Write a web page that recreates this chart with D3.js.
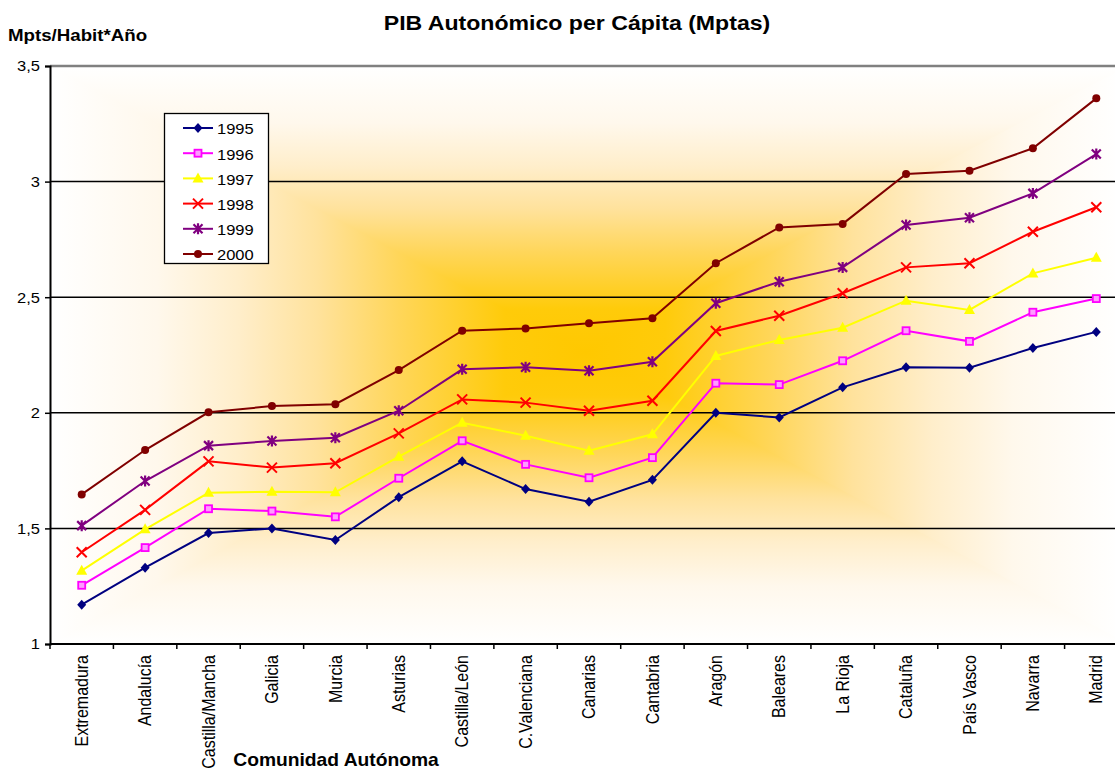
<!DOCTYPE html>
<html>
<head>
<meta charset="utf-8">
<script src="https://cdn.jsdelivr.net/npm/d3@7"></script>
<style>
html,body{margin:0;padding:0;background:#fff;overflow:hidden;}
text{font-family:"Liberation Sans",Arial,sans-serif;}
</style>
</head>
<body>
<svg id="chart" width="1115" height="769"></svg>
<script>
const categories = ["Extremadura","Andalucía","Castilla/Mancha","Galicia","Murcia","Asturias","Castilla/León","C.Valenciana","Canarias","Cantabria","Aragón","Baleares","La Rioja","Cataluña","País Vasco","Navarra","Madrid"];
const years = ["1995","1996","1997","1998","1999","2000"];
const v1995 = [1.17,1.33,1.48,1.50,1.45,1.635,1.79,1.67,1.615,1.71,2.00,1.98,2.11,2.197,2.195,2.28,2.35];
const v1996 = [1.254,1.417,1.585,1.575,1.55,1.717,1.879,1.777,1.719,1.806,2.128,2.122,2.225,2.355,2.309,2.435,2.494];
const v1997 = [1.317,1.496,1.654,1.659,1.656,1.81,1.957,1.901,1.836,1.907,2.246,2.315,2.368,2.485,2.445,2.603,2.671];
const v1998 = [1.397,1.58,1.79,1.763,1.782,1.911,2.058,2.044,2.009,2.052,2.354,2.42,2.517,2.629,2.647,2.783,2.889];
const v1999 = [1.512,1.705,1.858,1.878,1.892,2.009,2.188,2.197,2.182,2.221,2.474,2.567,2.629,2.812,2.844,2.949,3.119];
const v2000 = [1.647,1.839,2.002,2.029,2.037,2.185,2.355,2.365,2.387,2.409,2.647,2.802,2.817,3.033,3.047,3.144,3.36];
const seriesValues = [v1995,v1996,v1997,v1998,v1999,v2000];
const yTicks = [1,1.5,2,2.5,3,3.5];
const yTickLabels = ["1","1,5","2","2,5","3","3,5"];
const seriesColors = ["#000080","#FF00FF","#FFFF00","#FF0000","#800080","#800000"];

const SX = 1.1; // horizontal text stretch of the original
const svg = d3.select("#chart");
const L = 50, R = 1128, T = 66, B = 644;
const x = d3.scaleBand().domain(categories).range([L, R]).padding(0);
const y = d3.scaleLinear().domain([1, 3.5]).range([B, T]);

// Background: rectangular "from center" gradient
const defs = svg.append("defs");
const cx = 585, cy = 352;
const stops = [[0,"#FFC800"],[0.15,"#FFCB0A"],[0.35,"#FFD65A"],[0.5,"#FFE29C"],[0.65,"#FFEECB"],[0.8,"#FFF8EC"],[1,"#FFFFFF"]];
function grad(id, x1, y1, x2, y2) {
  const g = defs.append("linearGradient").attr("id", id).attr("gradientUnits", "userSpaceOnUse")
    .attr("x1", x1).attr("y1", y1).attr("x2", x2).attr("y2", y2).attr("spreadMethod", "reflect");
  stops.forEach(s => g.append("stop").attr("offset", s[0]).attr("stop-color", s[1]));
}
grad("gH", cx, cy, L, cy);
grad("gV", cx, cy, cx, T);
grad("gV2", cx, cy, cx, B);
svg.append("rect").attr("x", L).attr("y", T).attr("width", R - L).attr("height", B - T).attr("fill", "url(#gH)");
svg.append("polygon").attr("points", `${L},${T} ${cx},${cy} ${R},${T}`).attr("fill", "url(#gV)");
svg.append("polygon").attr("points", `${L},${B} ${cx},${cy} ${R},${B}`).attr("fill", "url(#gV2)");

// Gridlines
svg.append("g").selectAll("line").data(yTicks.filter(d => d > 1 && d < 3.5)).join("line")
  .attr("x1", L).attr("x2", R).attr("y1", d => y(d)).attr("y2", d => y(d))
  .attr("stroke", "#000").attr("stroke-width", 1.5);
svg.append("line").attr("x1", L).attr("x2", R).attr("y1", y(3.5)).attr("y2", y(3.5))
  .attr("stroke", "#808080").attr("stroke-width", 2.5);

// Y axis
const yAxis = d3.axisLeft(y).tickValues(yTicks).tickFormat((d, i) => yTickLabels[i]).tickSize(5).tickPadding(4);
const gy = svg.append("g").attr("transform", `translate(${L},0)`).call(yAxis);
gy.select(".domain").attr("stroke", "#000").attr("stroke-width", 2);
gy.selectAll(".tick line").attr("stroke", "#000").attr("stroke-width", 1.5);
gy.selectAll(".tick text").attr("font-size", 15).attr("fill", "#000").attr("x", null)
  .style("font-family", "Liberation Sans, Arial, sans-serif")
  .attr("transform", `translate(-10,0) scale(${SX},1)`);

// X axis
const gx = svg.append("g").attr("transform", `translate(0,${B})`);
gx.append("line").attr("x1", L).attr("x2", R).attr("stroke", "#000").attr("stroke-width", 2);
const boundaries = d3.range(categories.length + 1);
gx.selectAll("line.tk").data(boundaries).join("line").attr("class", "tk")
  .attr("x1", i => L + i * x.bandwidth()).attr("x2", i => L + i * x.bandwidth())
  .attr("y1", 0).attr("y2", 5).attr("stroke", "#000").attr("stroke-width", 1.5);
gx.selectAll("text").data(categories).join("text")
  .attr("transform", d => `translate(${x(d) + x.bandwidth() / 2},11) scale(${SX},1) rotate(-90)`)
  .attr("text-anchor", "end").attr("dy", "0.35em")
  .attr("font-size", 16).attr("fill", "#000").text(d => d);

// Lines and markers
const line = d3.line().x((d, i) => x(categories[i]) + x.bandwidth() / 2).y(d => y(d));
const symTypes = ["diamond","square","triangle","x","asterisk","circle"];
function drawMarker(g, type, color, px, py) {
  if (type === "diamond") {
    g.append("path").attr("d", `M${px},${py-5}L${px+4.5},${py}L${px},${py+5}L${px-4.5},${py}Z`).attr("fill", color);
  } else if (type === "square") {
    g.append("rect").attr("x", px-3.5).attr("y", py-3.5).attr("width", 7).attr("height", 7)
      .attr("fill", "#FF9CFF").attr("stroke", color).attr("stroke-width", 1.8);
  } else if (type === "triangle") {
    g.append("path").attr("d", `M${px},${py-6}L${px+5.5},${py+4}L${px-5.5},${py+4}Z`).attr("fill", color);
  } else if (type === "x") {
    g.append("path").attr("d", `M${px-5},${py-5}L${px+5},${py+5}M${px+5},${py-5}L${px-5},${py+5}`)
      .attr("stroke", color).attr("stroke-width", 2);
  } else if (type === "asterisk") {
    g.append("path").attr("d", `M${px-4.5},${py-4.5}L${px+4.5},${py+4.5}M${px+4.5},${py-4.5}L${px-4.5},${py+4.5}M${px},${py-5.5}L${px},${py+5.5}`)
      .attr("stroke", color).attr("stroke-width", 2.2);
  } else if (type === "circle") {
    g.append("circle").attr("cx", px).attr("cy", py).attr("r", 4).attr("fill", color);
  }
}
seriesValues.forEach((vals, si) => {
  const g = svg.append("g");
  g.append("path").datum(vals).attr("d", line).attr("fill", "none")
    .attr("stroke", seriesColors[si]).attr("stroke-width", 2);
  vals.forEach((v, i) => drawMarker(g, symTypes[si], seriesColors[si], x(categories[i]) + x.bandwidth() / 2, y(v)));
});

// Legend
const lg = svg.append("g");
lg.append("rect").attr("x", 164.5).attr("y", 113.5).attr("width", 104).attr("height", 150)
  .attr("fill", "#fff").attr("stroke", "#000").attr("stroke-width", 1.3);
years.forEach((yr, i) => {
  const ly = 128 + i * 25.2;
  lg.append("line").attr("x1", 183).attr("x2", 213).attr("y1", ly).attr("y2", ly)
    .attr("stroke", seriesColors[i]).attr("stroke-width", 2);
  drawMarker(lg, symTypes[i], seriesColors[i], 198, ly);
  lg.append("text").attr("transform", `translate(217,${ly + 1}) scale(${SX},1)`).attr("dy", "0.36em")
    .attr("font-size", 15).attr("fill", "#000").text(yr);
});

// Titles
svg.append("text").attr("transform", `translate(577,30) scale(${SX},1)`).attr("text-anchor", "middle")
  .attr("font-size", 21).attr("font-weight", "bold").text("PIB Autonómico per Cápita (Mptas)");
svg.append("text").attr("transform", `translate(8,41) scale(${SX},1)`)
  .attr("font-size", 17).attr("font-weight", "bold").text("Mpts/Habit*Año");
svg.append("text").attr("transform", `translate(336,766) scale(${SX},1)`).attr("text-anchor", "middle")
  .attr("font-size", 17.5).attr("font-weight", "bold").text("Comunidad Autónoma");
</script>
</body>
</html>
